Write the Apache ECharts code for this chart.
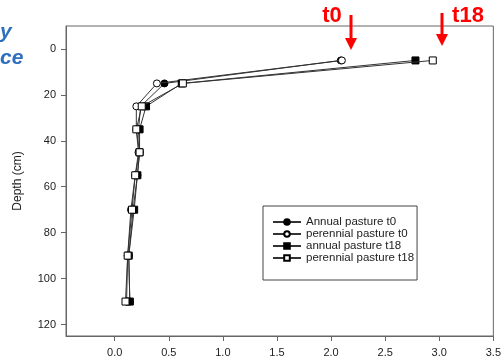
<!DOCTYPE html>
<html>
<head>
<meta charset="utf-8">
<script src="https://cdn.jsdelivr.net/npm/echarts@6/dist/echarts.min.js"></script>
<style>html,body{margin:0;padding:0;background:#fff}#c{width:504px;height:362px}</style>
</head>
<body>
<div id="c"></div>
<script>
// Data
const depths = [5, 15, 25, 35, 45, 55, 70, 90, 110];
const annualT0 = [2.09, 0.46, 0.24, 0.22, 0.23, 0.21, 0.17, 0.13, 0.14];
const perennialT0 = [2.10, 0.39, 0.20, 0.20, 0.22, 0.19, 0.15, 0.12, 0.11];
const annualT18 = [2.78, 0.62, 0.29, 0.23, 0.23, 0.21, 0.18, 0.13, 0.14];
const perennialT18 = [2.94, 0.63, 0.25, 0.20, 0.23, 0.19, 0.16, 0.12, 0.10];
const seriesNames = ['Annual pasture t0', 'perennial pasture t0', 'annual pasture t18', 'perennial pasture t18'];
const xTicks = [0, 0.5, 1.0, 1.5, 2.0, 2.5, 3.0, 3.5];
const yTicks = [0, 20, 40, 60, 80, 100, 120];

const font = 'Arial, "Liberation Sans", sans-serif';
const pair = (vals) => vals.map((v, i) => [v, depths[i]]);

function mkSeries(name, vals, symbol, filled, z) {
  return {
    name: name,
    type: 'line',
    data: pair(vals),
    symbol: symbol,
    symbolSize: 7,
    showSymbol: true,
    z: z,
    lineStyle: { color: '#333', width: 1 },
    itemStyle: { color: filled ? '#000' : '#fff', borderColor: '#000', borderWidth: 1 },
    emphasis: { disabled: true },
    animation: false
  };
}

const chart = echarts.init(document.getElementById('c'), null, { renderer: 'canvas' });
chart.setOption({
  animation: false,
  backgroundColor: '#fff',
  grid: { left: 66, right: 9, top: 26, bottom: 26, show: true, borderColor: '#666', borderWidth: 1 },
  xAxis: {
    type: 'value', min: -0.45, max: 3.5,
    axisLine: { show: true, onZero: false, lineStyle: { color: '#666' } },
    axisTick: { show: true, length: 5, customValues: xTicks, lineStyle: { color: '#666' } },
    axisLabel: { customValues: xTicks, margin: 11, fontFamily: font, fontSize: 11, color: '#222',
      formatter: v => v.toFixed(1) },
    splitLine: { show: false }
  },
  yAxis: {
    type: 'value', inverse: true, min: -10, max: 125,
    name: 'Depth (cm)', nameLocation: 'middle', nameGap: 42,
    nameTextStyle: { fontFamily: font, fontSize: 12, color: '#222' },
    axisLine: { show: true, onZero: false, lineStyle: { color: '#666' } },
    axisTick: { show: true, length: 5, customValues: yTicks, lineStyle: { color: '#666' } },
    axisLabel: { customValues: yTicks, margin: 10, fontFamily: font, fontSize: 11, color: '#222' },
    splitLine: { show: false }
  },
  legend: {
    orient: 'vertical', left: 263, top: 206,
    data: seriesNames,
    itemWidth: 28, itemHeight: 7, itemGap: 0,
    padding: [10, 3, 16, 9],
    borderColor: '#444', borderWidth: 1, backgroundColor: '#fff',
    textStyle: { fontFamily: font, fontSize: 11.5, lineHeight: 11.5, color: '#222' }
  },
  series: [
    mkSeries(seriesNames[0], annualT0, 'circle', true, 3),
    mkSeries(seriesNames[1], perennialT0, 'circle', false, 4),
    mkSeries(seriesNames[2], annualT18, 'rect', true, 5),
    mkSeries(seriesNames[3], perennialT18, 'rect', false, 6)
  ],
  graphic: [
    { type: 'text', left: 0, top: 22, style: { text: 'y', fontFamily: font, fontSize: 21, fontStyle: 'italic', fontWeight: 'bold', fill: '#2f6fc0' } },
    { type: 'text', left: 0, top: 48, style: { text: 'ce', fontFamily: font, fontSize: 21, fontStyle: 'italic', fontWeight: 'bold', fill: '#2f6fc0' } },
    { type: 'text', x: 332, y: 27, style: { text: 't0', fontFamily: font, fontSize: 22, fontWeight: 'bold', fill: '#ff0000', textAlign: 'center', textVerticalAlign: 'bottom' } },
    { type: 'text', x: 468, y: 27, style: { text: 't18', fontFamily: font, fontSize: 22, fontWeight: 'bold', fill: '#ff0000', textAlign: 'center', textVerticalAlign: 'bottom' } },
    { type: 'line', shape: { x1: 351, y1: 15, x2: 351, y2: 42 }, style: { stroke: '#ff0000', lineWidth: 3 } },
    { type: 'polygon', shape: { points: [[345, 38], [357, 38], [351, 50]] }, style: { fill: '#ff0000' } },
    { type: 'line', shape: { x1: 442, y1: 13, x2: 442, y2: 38 }, style: { stroke: '#ff0000', lineWidth: 3 } },
    { type: 'polygon', shape: { points: [[436, 34], [448, 34], [442, 46]] }, style: { fill: '#ff0000' } }
  ]
});
</script>
</body>
</html>
